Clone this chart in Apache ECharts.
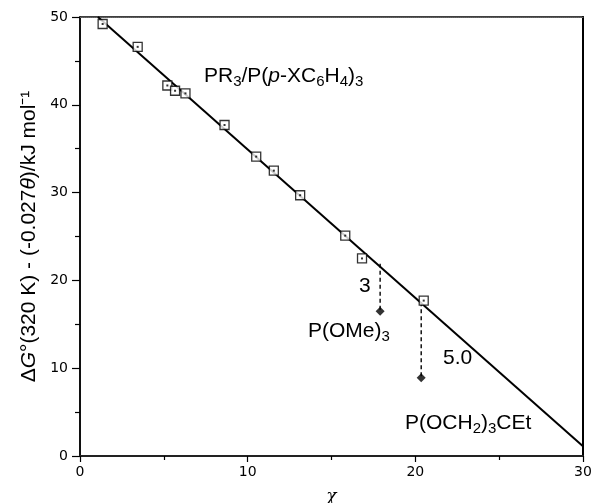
<!DOCTYPE html>
<html>
<head>
<meta charset="utf-8">
<script src="https://cdn.jsdelivr.net/npm/echarts@6/dist/echarts.min.js"></script>
<style>
  html, body { margin: 0; padding: 0; background: #fff; }
  #chart { width: 595px; height: 503px; }
</style>
</head>
<body>
<div id="chart"></div>
<script>
// PR3 / P(p-XC6H4)3 points (open squares)
const chiPR3 = [1.35, 3.44, 5.21, 5.67, 6.29, 8.62, 10.51, 11.56, 13.13, 15.82, 16.82, 20.5];
const dgPR3 = [49.2, 46.6, 42.2, 41.6, 41.3, 37.7, 34.1, 32.5, 29.7, 25.1, 22.5, 17.7];

// phosphites (filled diamonds)
const chiPhos = [17.9, 20.35];
const dgPhos = [16.5, 8.9];
// where the dashed drop lines start (on the fit line)
const dgOnLine = [21.9, 17.5];

// fitted line end points
const fitX = [1.07, 30];
const fitY = [50, 1.1];

const myChart = echarts.init(document.getElementById("chart"));

const sq = chiPR3.map((x, i) => [x, dgPR3[i]]);
const dia = chiPhos.map((x, i) => [x, dgPhos[i]]);
const drops = chiPhos.map((x, i) => ({
  name: "drop" + i,
  type: "line",
  data: [[x, dgOnLine[i]], [x, dgPhos[i]]],
  symbol: "none",
  lineStyle: { color: "#000", width: 1.4, type: [4, 3] },
  z: 3,
}));

const mainStyle = { fontSize: 21, fontFamily: "Liberation Sans", lineHeight: 25 };
const subStyle = { fontSize: 15, fontFamily: "Liberation Sans", verticalAlign: "bottom", lineHeight: 17, padding: [7, 0, 0, 0] };

function label(text, left, top) {
  return {
    type: "text",
    left: left,
    top: top,
    style: {
      text: text,
      fill: "#000",
      font: "21px Liberation Sans",
      rich: {
        m: mainStyle,
        s: subStyle,
        i: Object.assign({}, mainStyle, { fontStyle: "italic" }),
      },
    },
  };
}

myChart.setOption({
  animation: false,
  grid: {
    left: 80, right: 12, top: 17, bottom: 47,
    outerBoundsMode: "none", containLabel: false,
    show: true, borderColor: "#000", borderWidth: 1.5, backgroundColor: "transparent",
  },
  xAxis: [
    {
      type: "value",
      min: 0,
      max: 30,
      interval: 10,
      name: "χ",
      nameLocation: "middle",
      nameGap: 32,
      nameTextStyle: { fontFamily: "DejaVu Serif", fontStyle: "italic", fontSize: 17, color: "#000" },
      axisLine: { show: true, onZero: false, lineStyle: { color: "#222", width: 2, type: [1, 1] } },
      axisTick: { length: 6, lineStyle: { color: "#000", width: 1.2 } },
      minorTick: { show: true, splitNumber: 2, length: 4, lineStyle: { color: "#000", width: 1.2 } },
      axisLabel: { fontFamily: "DejaVu Sans", fontSize: 14, color: "#000", margin: 9 },
      splitLine: { show: false },
    },
    {
      type: "value",
      position: "top",
      min: 0,
      max: 30,
      axisLine: { show: true, onZero: false, lineStyle: { color: "#666", width: 1, type: [1, 1] } },
      axisTick: { show: false },
      axisLabel: { show: false },
      splitLine: { show: false },
    },
  ],
  yAxis: [
    {
      type: "value",
      min: 0,
      max: 50,
      interval: 10,
      name: "{m|Δ}{i|G}{m|°(320 K) - (-0.027}{i|θ}{m|)/kJ mol⁻¹}",
      nameLocation: "middle",
      nameGap: 38,
      nameRotate: 90,
      nameTextStyle: {
        color: "#000",
        rich: {
          m: { fontSize: 21, fontFamily: "Liberation Sans" },
          i: { fontSize: 21, fontFamily: "Liberation Sans", fontStyle: "italic" },
        },
      },
      axisLine: { show: true, onZero: false, lineStyle: { color: "#000", width: 1.5 } },
      axisTick: { length: 8, lineStyle: { color: "#000", width: 1.2 } },
      minorTick: { show: true, splitNumber: 2, length: 5, lineStyle: { color: "#000", width: 1.2 } },
      axisLabel: { fontFamily: "DejaVu Sans", fontSize: 14, color: "#000", margin: 12 },
      splitLine: { show: false },
    },
    {
      type: "value",
      position: "right",
      min: 0,
      max: 50,
      axisLine: { show: true, onZero: false, lineStyle: { color: "#000", width: 2 } },
      axisTick: { show: false },
      axisLabel: { show: false },
      splitLine: { show: false },
    },
  ],
  series: [
    {
      name: "fit",
      type: "line",
      data: fitX.map((x, i) => [x, fitY[i]]),
      symbol: "none",
      lineStyle: { color: "#000", width: 2 },
      z: 2,
    },
    ...drops,
    {
      name: "PR3",
      type: "scatter",
      data: sq,
      symbol: "rect",
      symbolSize: 9,
      itemStyle: { color: "#fff", borderColor: "#000", borderWidth: 1.3 },
      z: 4,
    },
    {
      name: "PR3 centre",
      type: "scatter",
      data: sq,
      symbol: "rect",
      symbolSize: 2,
      itemStyle: { color: "#000" },
      z: 5,
    },
    {
      name: "phosphites",
      type: "scatter",
      data: dia,
      symbol: "diamond",
      symbolSize: 9,
      itemStyle: { color: "#000" },
      z: 5,
    },
  ],
  graphic: [
    label("{m|PR}{s|3}{m|/P(}{i|p}{m|-XC}{s|6}{m|H}{s|4}{m|)}{s|3}", 204, 66),
    label("{m|3}", 359, 276),
    label("{m|P(OMe)}{s|3}", 308, 321),
    label("{m|5.0}", 443, 348),
    label("{m|P(OCH}{s|2}{m|)}{s|3}{m|CEt}", 405, 413),
  ],
});
</script>
</body>
</html>
